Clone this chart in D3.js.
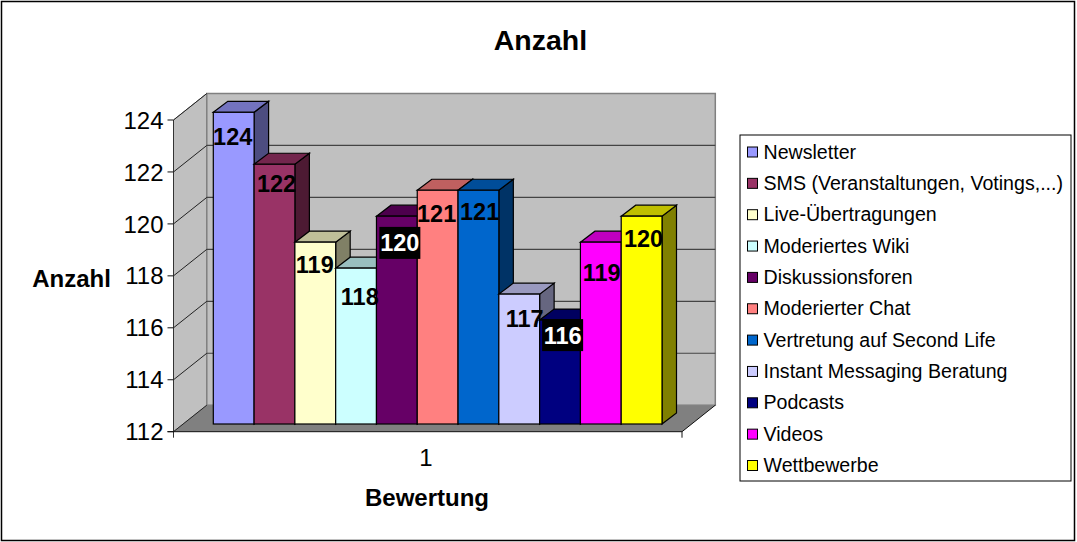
<!DOCTYPE html>
<html><head><meta charset="utf-8">
<script src="https://cdn.jsdelivr.net/npm/d3@7/dist/d3.min.js"></script>
<style>html,body{margin:0;padding:0;background:#fff}svg{display:block}text{font-family:"Liberation Sans",Arial,sans-serif;fill:#000}</style>
</head><body><svg id="c" width="1077" height="542"></svg>
<script>
const names=["Newsletter","SMS (Veranstaltungen, Votings,...)","Live-Übertragungen","Moderiertes Wiki","Diskussionsforen","Moderierter Chat","Vertretung auf Second Life","Instant Messaging Beratung","Podcasts","Videos","Wettbewerbe"];
const values=[124,122,119,118,120,121,121,117,116,119,120];
const colors=["#9999FF","#993366","#FFFFCC","#CCFFFF","#660066","#FF8080","#0066CC","#CCCCFF","#000080","#FF00FF","#FFFF00"];
const ticks=[112,114,116,118,120,122,124];
const category="1";
// label nudges relative to top-centre of each bar's front face
const labelNudge=[[-1,24],[2,19],[-0.5,22],[3.7,28],[3,26.7],[-1,23],[1.2,21],[5.4,24],[2.6,15],[0.8,30],[2,22]];
const labelBoxed=[false,false,false,false,true,false,false,false,true,false,false];

const svg=d3.select("#c");
svg.append("rect").attr("x",1.5).attr("y",1.5).attr("width",1073).attr("height",539).attr("fill","#fff").attr("stroke","#000").attr("stroke-width",1.5);

const y=d3.scaleLinear().domain([112,124]).range([431.7,120]);
const x=d3.scaleBand().domain(d3.range(values.length)).range([213.3,662]).paddingInner(0).paddingOuter(0);
const depthX=33.3,depthY=-26.5;      // wall/floor depth
const barX=14.5,barY=-11,barLift=-7.7; // bar depth and offset from floor front
const xL=173.5,xR=682;
const pts=a=>a.map(p=>p.join(",")).join(" ");

svg.append("polygon").attr("points",pts([[xL,y(112)],[xL+depthX,y(112)+depthY],[xR+depthX,y(112)+depthY],[xR,y(112)]])).attr("fill","#808080").attr("stroke","none");
svg.append("polygon").attr("points",pts([[xL,y(112)],[xL,y(124)],[xL+depthX,y(124)+depthY],[xL+depthX,y(112)+depthY]])).attr("fill","#C0C0C0").attr("stroke","#808080").attr("stroke-width",1);
svg.append("rect").attr("x",xL+depthX).attr("y",y(124)+depthY).attr("width",xR-xL).attr("height",y(112)-y(124)).attr("fill","#C0C0C0").attr("stroke","#808080").attr("stroke-width",1.5);
ticks.slice(1,-1).forEach(t=>{
  svg.append("line").attr("x1",xL+depthX).attr("x2",xR+depthX).attr("y1",y(t)+depthY).attr("y2",y(t)+depthY).attr("stroke","#444").attr("stroke-width",1.2);
});
ticks.forEach(t=>{
  if(t>112)svg.append("line").attr("x1",xL).attr("x2",xL+depthX).attr("y1",y(t)).attr("y2",y(t)+depthY).attr("stroke","#222").attr("stroke-width",1);
});
svg.append("line").attr("x1",xL).attr("x2",xL+depthX).attr("y1",y(112)).attr("y2",y(112)+depthY).attr("stroke","#222");
svg.append("line").attr("x1",xR).attr("x2",xR+depthX).attr("y1",y(112)).attr("y2",y(112)+depthY).attr("stroke","#111");
svg.append("line").attr("x1",xL).attr("x2",xL).attr("y1",y(124)).attr("y2",y(112)+6).attr("stroke","#333").attr("stroke-width",1);
svg.append("line").attr("x1",xL-6).attr("x2",xR).attr("y1",y(112)).attr("y2",y(112)).attr("stroke","#111").attr("stroke-width",1);
svg.append("line").attr("x1",xR).attr("x2",xR).attr("y1",y(112)).attr("y2",y(112)+6).attr("stroke","#111").attr("stroke-width",1);
ticks.forEach(t=>{
  svg.append("line").attr("x1",xL-6).attr("x2",xL).attr("y1",y(t)).attr("y2",y(t)).attr("stroke","#111");
  svg.append("text").attr("x",163.5).attr("y",y(t)).attr("dy","0.36em").attr("text-anchor","end").attr("font-size",24).text(t);
});
const mix=(c,k)=>{const r=d3.rgb(c);return d3.rgb(r.r*k,r.g*k,r.b*k).formatHex();};
const g=svg.append("g").attr("stroke","#000").attr("stroke-width",1.2).attr("stroke-linejoin","miter");
values.forEach((v,i)=>{
  const x0=x(i),x1=x0+x.bandwidth(),yt=y(v)+barLift,yb=y(112)+barLift;
  g.append("polygon").attr("points",pts([[x1,yt],[x1+barX,yt+barY],[x1+barX,yb+barY],[x1,yb]])).attr("fill",mix(colors[i],0.5));
  g.append("polygon").attr("points",pts([[x0,yt],[x0+barX,yt+barY],[x1+barX,yt+barY],[x1,yt]])).attr("fill",mix(colors[i],0.75));
  g.append("rect").attr("x",x0).attr("y",yt).attr("width",x.bandwidth()).attr("height",yb-yt).attr("fill",colors[i]);
});
values.forEach((v,i)=>{
  const cx=x(i)+x.bandwidth()/2+labelNudge[i][0], cy=y(v)+barLift+labelNudge[i][1];
  if(labelBoxed[i]) svg.append("rect").attr("x",cx-20.5).attr("y",cy-16).attr("width",41).attr("height",32).attr("fill","#000");
  svg.append("text").attr("x",cx).attr("y",cy).attr("dy","0.36em").attr("text-anchor","middle").attr("font-size",23.5).attr("font-weight","bold").style("fill",labelBoxed[i]?"#fff":"#000").text(v);
});
svg.append("text").attr("x",540.5).attr("y",40).attr("dy","0.36em").attr("text-anchor","middle").attr("font-size",28.5).attr("font-weight","bold").text("Anzahl");
svg.append("text").attr("x",71.5).attr("y",278).attr("dy","0.36em").attr("text-anchor","middle").attr("font-size",24).attr("font-weight","bold").text("Anzahl");
svg.append("text").attr("x",427).attr("y",497).attr("dy","0.36em").attr("text-anchor","middle").attr("font-size",24).attr("font-weight","bold").text("Bewertung");
svg.append("text").attr("x",426).attr("y",457).attr("dy","0.36em").attr("text-anchor","middle").attr("font-size",24).text(category);
svg.append("rect").attr("x",740).attr("y",135).attr("width",331).attr("height",346).attr("fill","#fff").attr("stroke","#000").attr("stroke-width",1);
const ly=d3.scalePoint().domain(d3.range(names.length)).range([151.5,465]);
names.forEach((n,i)=>{
  svg.append("rect").attr("x",747.5).attr("y",ly(i)-4.5).attr("width",10).attr("height",10).attr("fill",colors[i]).attr("stroke","#000").attr("stroke-width",1);
  svg.append("text").attr("x",763.5).attr("y",ly(i)).attr("dy","0.36em").attr("font-size",19.6).text(n);
});
</script></body></html>
